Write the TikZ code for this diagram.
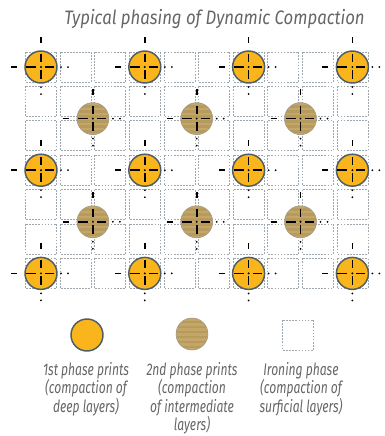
\documentclass[tikz,border=0pt]{standalone}
\usepackage{fontspec}
\setmainfont{Fira Sans}
\newfontfamily\titlefont[FakeStretch=0.86]{Fira Sans}
\newfontfamily\legendfont[FakeStretch=0.72]{Fira Sans}

\definecolor{printyellow}{HTML}{F9B51B}
\definecolor{printrim}{HTML}{4E5E66}
\definecolor{sandlight}{HTML}{C4A667}
\definecolor{sanddark}{HTML}{B79A5E}
\definecolor{sandrim}{HTML}{A09A90}
\definecolor{ironblue}{HTML}{9EA6AE}
\definecolor{captiongray}{HTML}{666666}

% crosshair over a print, offsets in px
\newcommand{\printcross}[2]{%
  \draw[cross] (#1-30,#2) -- (#1-24,#2) (#1-15,#2) -- (#1-5,#2) (#1+4,#2) -- (#1+13,#2);
  \draw[cross] (#1,#2-30) -- (#1,#2-24) (#1,#2-13) -- (#1,#2-5) (#1,#2+3) -- (#1,#2+12);
  \foreach \dd in {20,27} {
    \fill (#1+\dd,#2) circle (0.75pt);
    \fill (#1,#2+\dd) circle (0.75pt);
  }
  \fill (#1,#2) circle (0.8pt);
}

\begin{document}
\begin{tikzpicture}[
    x=0.75pt, y=-0.75pt,
    cell/.style={draw=ironblue, line width=0.5pt, dash pattern=on 1.3pt off 1pt},
    first/.style={fill=printyellow, draw=printrim, line width=1.1pt},
    second/.style={draw=sandrim, line width=0.4pt},
    cross/.style={black, line width=1.2pt},
    title/.style={font=\titlefont\itshape\fontsize{14.6}{16}\selectfont, text=captiongray, inner sep=0pt},
    caption/.style={font=\legendfont\itshape\fontsize{12.6}{13.8}\selectfont, text=captiongray, align=center, inner sep=0pt, anchor=north}
]

\useasboundingbox (0,0) rectangle (385,436);

% Dimensions
\def\xO{41}
\def\yO{67}
\def\dx{34.6}
\def\dy{34.4}
\def\R{12pt}

% ============================================================
% Title
% ============================================================
\node[title] (title) at (214.5,19) {Typical phasing of Dynamic Compaction};

% ============================================================
% Ironing grid
% ============================================================
\foreach \i in {0,...,9} {
    \foreach \j in {0,...,6} {
        \pgfmathsetmacro{\cx}{\xO+\i*\dx}
        \pgfmathsetmacro{\cy}{\yO+\j*\dy}
        \draw[cell] (\cx-15.5,\cy-15) rectangle (\cx+15.5,\cy+15);
    }
}

% ============================================================
% 1st phase prints
% ============================================================
\foreach \i in {0,3,6,9} {
    \foreach \j in {0,3,6} {
        \pgfmathsetmacro{\cx}{\xO+\i*\dx}
        \pgfmathsetmacro{\cy}{\yO+\j*\dy}
        \draw[first] (\cx,\cy) circle (\R);
        \printcross{\cx}{\cy}
    }
}

% ============================================================
% 2nd phase prints
% ============================================================
\foreach \i in {1.5,4.5,7.5} {
    \foreach \j in {1.5,4.5} {
        \pgfmathsetmacro{\cx}{\xO+\i*\dx}
        \pgfmathsetmacro{\cy}{\yO+\j*\dy}
        \begin{scope}
            \clip (\cx,\cy) circle (\R);
            \fill[sanddark] (\cx-17,\cy-17) rectangle (\cx+17,\cy+17);
            \foreach \k in {-16,-11,...,16} {
                \fill[sandlight] (\cx-17,\cy+\k) rectangle (\cx+17,\cy+\k+2.5);
            }
        \end{scope}
        \draw[second] (\cx,\cy) circle (\R);
        \printcross{\cx}{\cy}
    }
}

% ============================================================
% Legend
% ============================================================
\draw[first] (87,335) circle (\R);

\begin{scope}
    \clip (192,334) circle (\R);
    \fill[sanddark] (175,317) rectangle (209,351);
    \foreach \k in {-16,-11,...,16} {
        \fill[sandlight] (175,334+\k) rectangle (209,334+\k+2.5);
    }
\end{scope}
\draw[second] (192,334) circle (\R);

\draw[cell] (282.5,320) rectangle (313.5,350);

\node[caption] (lgfirst) at (86,362) {1st phase prints\\(compaction of\\deep layers)};
\node[caption] (lgsecond) at (192,362) {2nd phase prints\\(compaction\\of intermediate\\layers)};
\node[caption] (lgiron) at (301,362) {Ironing phase\\(compaction of\\surficial layers)};

\end{tikzpicture}
\end{document}
